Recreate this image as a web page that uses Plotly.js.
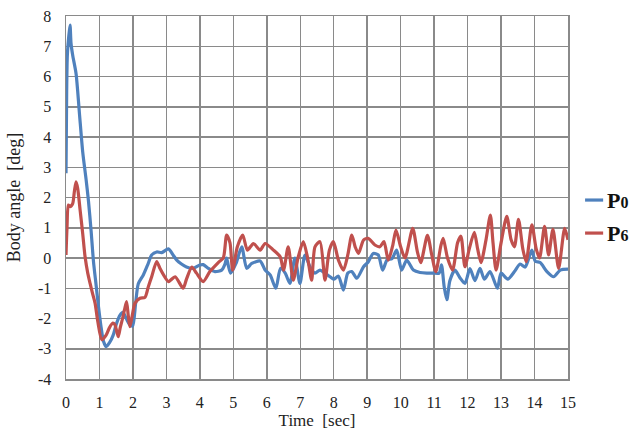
<!DOCTYPE html>
<html>
<head>
<meta charset="utf-8">
<script src="https://cdn.plot.ly/plotly-3.0.1.min.js"></script>
<style>html,body{margin:0;padding:0;background:#fff;}#chart{width:630px;height:432px;}</style>
</head>
<body>
<div id="chart"></div>
<script>
// Time [sec] and body angle [deg] for P0
const p0Time = [0.00,0.02,0.04,0.08,0.12,0.15,0.20,0.30,0.40,0.50,0.60,0.67,0.75,0.82,0.90,0.97,1.05,1.12,1.20,1.30,1.41,1.50,1.61,1.70,1.80,1.90,1.99,2.08,2.16,2.31,2.45,2.56,2.71,2.86,3.06,3.20,3.31,3.45,3.60,3.80,4.00,4.10,4.25,4.45,4.65,4.75,4.80,4.85,4.92,5.08,5.25,5.40,5.55,5.80,5.95,6.10,6.27,6.41,6.55,6.69,6.84,6.99,7.14,7.29,7.44,7.59,7.74,7.89,8.00,8.14,8.29,8.42,8.54,8.69,8.89,9.03,9.18,9.33,9.46,9.60,9.74,9.88,10.03,10.18,10.38,10.58,10.78,10.98,11.15,11.22,11.30,11.38,11.47,11.62,11.77,11.92,12.07,12.22,12.37,12.50,12.67,12.89,13.00,13.20,13.40,13.57,13.72,13.80,13.92,14.02,14.17,14.37,14.57,14.77,15.00];
const p0Angle = [2.8,5.5,6.7,7.3,7.7,7.1,6.7,6.1,4.8,3.5,2.6,1.9,0.9,-0.1,-0.9,-1.6,-2.3,-2.75,-2.93,-2.8,-2.55,-2.2,-1.9,-1.8,-2.0,-2.2,-2.25,-1.5,-0.85,-0.56,-0.2,0.1,0.2,0.18,0.3,0.1,-0.07,-0.2,-0.3,-0.34,-0.23,-0.22,-0.34,-0.45,-0.4,-0.2,0.0,-0.25,-0.5,-0.18,0.37,-0.34,-0.18,-0.1,-0.4,-0.56,-1.0,-0.34,-0.5,-0.84,0.0,-0.84,0.1,-0.29,-0.5,-0.4,-0.5,-0.62,-0.7,-0.6,-1.06,-0.5,-0.45,-0.67,-0.29,-0.13,0.15,0.1,-0.4,-0.05,-0.02,0.26,-0.4,-0.07,-0.4,-0.48,-0.5,-0.5,-0.5,-0.23,-0.95,-1.38,-0.75,-0.4,-0.65,-0.84,-0.35,-0.75,-0.34,-0.7,-0.45,-1.0,-0.5,-0.7,-0.45,-0.2,-0.3,-0.1,0.26,-0.1,-0.15,-0.45,-0.62,-0.4,-0.37];

// Time [sec] and body angle [deg] for P6
const p6Time = [0.00,0.03,0.07,0.12,0.20,0.25,0.30,0.35,0.42,0.50,0.57,0.65,0.72,0.80,0.87,0.95,1.07,1.20,1.30,1.40,1.46,1.56,1.62,1.69,1.75,1.81,1.86,1.91,1.98,2.06,2.21,2.36,2.46,2.56,2.71,2.81,2.91,3.06,3.26,3.50,3.60,3.76,3.90,4.10,4.30,4.55,4.70,4.80,4.90,4.98,5.12,5.28,5.42,5.60,5.80,5.95,6.20,6.40,6.50,6.64,6.79,6.94,7.09,7.22,7.34,7.44,7.59,7.74,7.87,7.99,8.14,8.29,8.42,8.54,8.64,8.74,8.89,9.03,9.23,9.38,9.50,9.63,9.76,9.86,10.00,10.13,10.36,10.50,10.60,10.80,10.93,11.05,11.20,11.27,11.40,11.55,11.70,11.80,11.92,12.05,12.20,12.30,12.40,12.55,12.68,12.76,12.85,13.00,13.17,13.30,13.40,13.52,13.65,13.75,13.92,14.05,14.15,14.30,14.42,14.55,14.72,14.90,15.00];
const p6Angle = [0.1,1.0,1.75,1.7,1.8,2.2,2.52,2.3,1.6,0.8,0.04,-0.5,-0.84,-1.2,-1.5,-2.1,-2.7,-2.55,-2.3,-2.15,-2.2,-2.6,-2.3,-2.0,-1.7,-1.44,-1.9,-2.27,-1.9,-1.5,-1.33,-1.3,-0.95,-0.62,-0.12,-0.35,-0.55,-0.78,-0.62,-1.0,-0.7,-0.3,-0.5,-0.78,-0.45,-0.15,0.0,0.76,0.5,-0.4,0.37,0.76,0.26,0.48,0.26,0.48,0.26,0.04,-0.4,0.37,-0.73,0.04,0.54,0.0,-0.73,0.37,0.54,-0.73,0.26,0.54,-0.07,-0.4,0.1,0.76,0.37,0.15,0.59,0.65,0.43,0.37,0.54,-0.07,0.4,0.92,0.37,0.0,0.98,0.2,-0.15,0.75,0.1,-0.45,0.4,0.65,0.0,-0.4,0.5,0.72,-0.29,0.3,0.85,0.3,-0.15,0.6,1.42,0.5,-0.4,0.5,1.38,0.6,0.37,1.28,0.3,-0.12,1.1,0.3,0.0,1.05,0.1,0.95,-0.34,0.98,0.6];

const xTicks = [0,1,2,3,4,5,6,7,8,9,10,11,12,13,14,15];
const yTicks = [-4,-3,-2,-1,0,1,2,3,4,5,6,7,8];
const seriesLetters = ['P', 'P'];
const seriesDigits = ['0', '6'];
const seriesColors = ['#4F81BD', '#C0504D'];

const serif = '"Liberation Serif", "Times New Roman", Times, serif';

const traces = [
  {x: p0Time, y: p0Angle, type: 'scatter', mode: 'lines', name: 'P0',
   line: {color: seriesColors[0], width: 3.2, shape: 'spline', smoothing: 0.7}},
  {x: p6Time, y: p6Angle, type: 'scatter', mode: 'lines', name: 'P6',
   line: {color: seriesColors[1], width: 3.2, shape: 'spline', smoothing: 0.7}}
];

// custom legend (keys + labels) placed to the right of the plot
const legendY = [0.493, 0.402];
const shapes = [], annotations = [];
for (let i = 0; i < 2; i++) {
  shapes.push({type: 'line', xref: 'paper', yref: 'paper', x0: 1.034, x1: 1.070, y0: legendY[i], y1: legendY[i],
               line: {color: seriesColors[i], width: 3.2}});
  annotations.push({xref: 'paper', yref: 'paper', x: 1.074, y: legendY[i], xanchor: 'left', yanchor: 'middle',
                    showarrow: false, font: {family: serif, size: 22, color: '#111'},
                    text: '<b>' + seriesLetters[i] + '</b><b><span style="font-size:16px">' + seriesDigits[i] + '</span></b>'});
}

const layout = {
  width: 630, height: 432,
  margin: {l: 66, r: 62, t: 16, b: 53},
  paper_bgcolor: '#fff', plot_bgcolor: '#fff',
  font: {family: serif, size: 16, color: '#222'},
  showlegend: false,
  shapes: shapes,
  annotations: annotations,
  xaxis: {range: [0, 15], tickvals: xTicks, ticktext: xTicks.map(String), showgrid: true, gridcolor: '#8a8a8a', gridwidth: 1.5,
          zeroline: false, showline: true, linecolor: '#8a8a8a', linewidth: 1.5, mirror: true, ticks: '',
          ticklabelstandoff: 8,
          tickfont: {family: serif, size: 16}, title: {text: 'Time\u00a0\u00a0[sec]', font: {family: serif, size: 17}, standoff: 4}},
  yaxis: {range: [-4, 8], tickvals: yTicks, ticktext: yTicks.map(String), showgrid: true, gridcolor: '#8a8a8a', gridwidth: 1.5,
          zeroline: false, showline: true, linecolor: '#8a8a8a', linewidth: 1.5, mirror: true, ticks: '',
          ticklabelstandoff: 10,
          tickfont: {family: serif, size: 16}, title: {text: 'Body angle\u00a0\u00a0[deg]', font: {family: serif, size: 18}, standoff: 12}}
};

Plotly.newPlot('chart', traces, layout, {displayModeBar: false, staticPlot: true});
</script>
</body>
</html>
